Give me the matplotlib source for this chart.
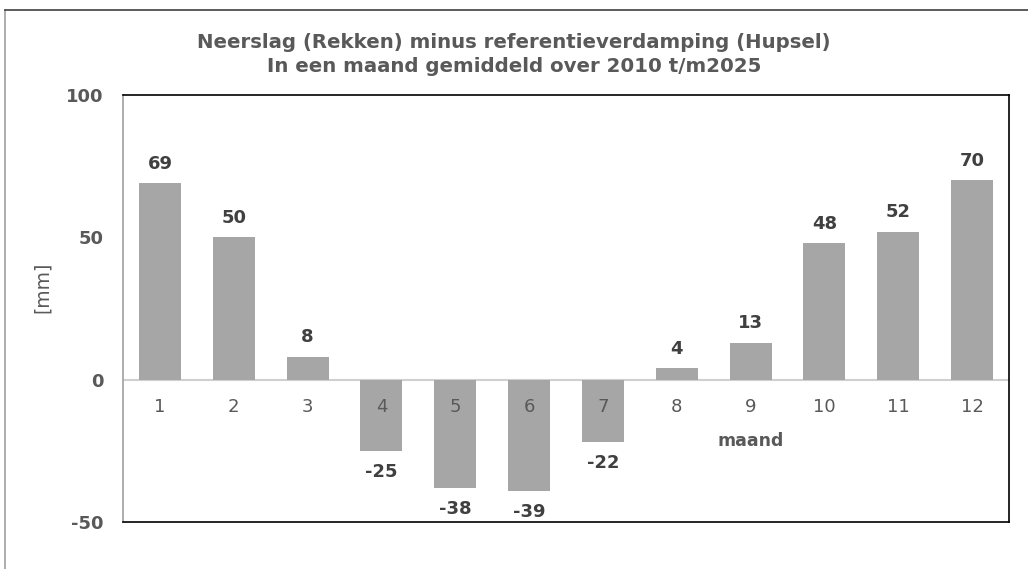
import matplotlib.pyplot as plt
import numpy as np

# monthly average precipitation minus reference evaporation
months = [1, 2, 3, 4, 5, 6, 7, 8, 9, 10, 11, 12]
values = [69, 50, 8, -25, -38, -39, -22, 4, 13, 48, 52, 70]

txt = '#595959'
plt.rcParams['font.family'] = ['DejaVu Sans']
plt.rcParams['axes.unicode_minus'] = False

fig = plt.figure(figsize=(10.28, 5.69), dpi=100)
ax = fig.add_axes([123 / 1028, 1 - 522 / 569, 886 / 1028, 427 / 569])

x = np.arange(len(months))
ax.bar(x, values, width=0.57, color='#a6a6a6', zorder=2)
ax.axhline(0, color='#d0d0d0', lw=1.5, zorder=1)

ax.set_xlim(-0.5, len(months) - 0.5)
ax.set_ylim(-50, 100)
ax.set_yticks([-50, 0, 50, 100])
ax.set_xticks([])
ax.tick_params(axis='y', length=0, pad=14, labelsize=13, labelcolor=txt)
for lab in ax.get_yticklabels():
    lab.set_fontweight('bold')

for s in ['top', 'right', 'bottom']:
    ax.spines[s].set_color('black')
    ax.spines[s].set_linewidth(1.2)
ax.spines['left'].set_color('#a0a0a0')
ax.spines['left'].set_linewidth(1.2)

# month labels just below the zero line
for i, m in enumerate(months):
    ax.annotate(str(m), (i, 0), xytext=(0, -20), textcoords='offset points',
                ha='center', va='center', fontsize=13, color=txt)

ax.annotate('maand', (8, 0), xytext=(0, -44), textcoords='offset points',
            ha='center', va='center', fontsize=12.5, fontweight='bold', color=txt)

# data labels
for i, v in enumerate(values):
    off = 14 if v >= 0 else -15
    ax.annotate(str(v), (i, v), xytext=(0, off), textcoords='offset points',
                ha='center', va='center', fontsize=13, fontweight='bold', color='#404040')

ax.set_ylabel('[mm]', fontsize=13.5, color=txt)
ax.yaxis.set_label_coords(-0.08, 0.55)

fig.text(0.5, 1 - 42 / 569, 'Neerslag (Rekken) minus referentieverdamping (Hupsel)',
         ha='center', va='center', fontsize=14.2, fontweight='bold', color=txt)
fig.text(0.5, 1 - 66 / 569, 'In een maand gemiddeld over 2010 t/m2025',
         ha='center', va='center', fontsize=14.2, fontweight='bold', color=txt)

# outer chart border (top and left visible)
fig.add_artist(plt.Line2D([5 / 1028, 5 / 1028], [0, 1 - 10 / 569], color='#a0a0a0', lw=1.2, transform=fig.transFigure))
fig.add_artist(plt.Line2D([5 / 1028, 1], [1 - 10 / 569, 1 - 10 / 569], color='#404040', lw=1.2, transform=fig.transFigure))

fig.savefig('out.png', dpi=100)
